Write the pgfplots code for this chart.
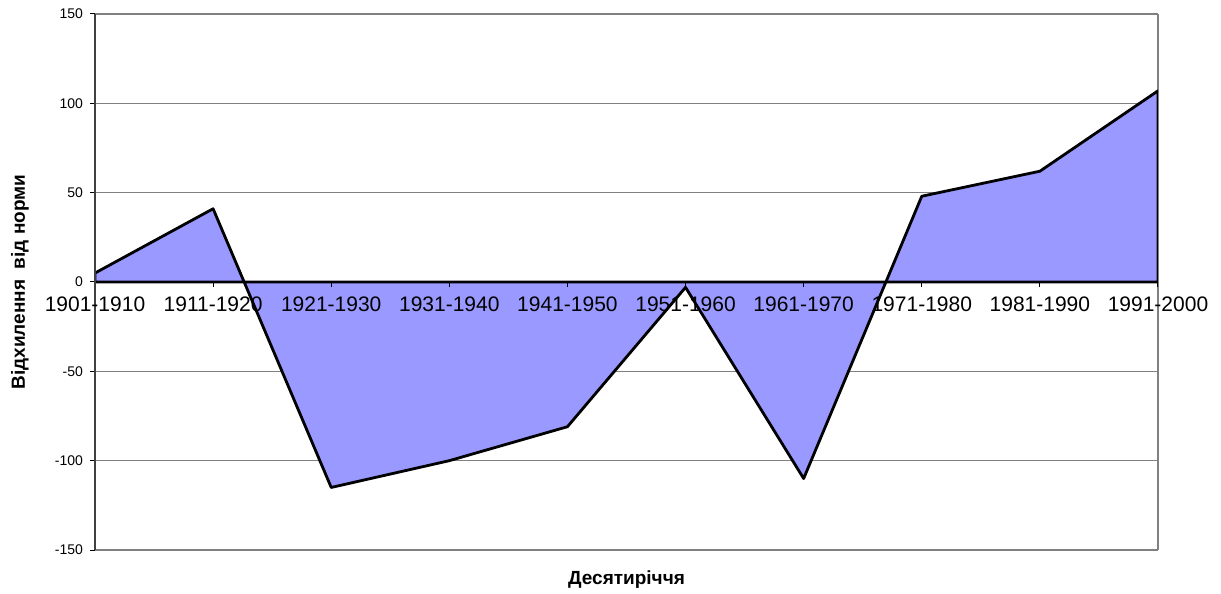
\documentclass[border=0pt]{standalone}
\usepackage{pgfplots}
\pgfplotsset{compat=1.18}
\usepackage{fontspec}
\setmainfont{Liberation Sans}
\definecolor{areafill}{HTML}{9999FF}
\pgfplotsset{
  common/.style={
    at={(0,0)}, anchor=south west,
    scale only axis, width=531.5pt, height=268pt,
    xmin=0, xmax=9, ymin=-150, ymax=150,
  },
}
\begin{document}
\begin{tikzpicture}
% background axis: grid, right border and the area
\begin{axis}[
  common,
  axis line style={draw=none},
  xtick=\empty,
  ytick={-150,-100,...,150}, yticklabels={},
  major tick length=0pt,
  ymajorgrids, major grid style={draw=gray, line width=0.7pt},
  extra x ticks={9}, extra x tick labels={},
  extra x tick style={xmajorgrids=true, major tick length=0pt},
]
\addplot[fill=areafill, draw=black, line width=1.4pt, line join=round] coordinates {
  (0,5) (1,41) (2,-115) (3,-100) (4,-81) (5,-3) (6,-110) (7,48) (8,62) (9,107)
} \closedcycle;
\end{axis}
% foreground axis: axis lines, ticks, labels
\begin{axis}[
  common,
  axis x line*=middle, axis y line*=left,
  hide obscured x ticks=false, hide obscured y ticks=false,
  xtick={0,...,9},
  xticklabels={1901-1910,1911-1920,1921-1930,1931-1940,1941-1950,1951-1960,1961-1970,1971-1980,1981-1990,1991-2000},
  ytick={-150,-100,...,150},
  tick align=outside, major tick length=2.5pt,
  x axis line style={black, line width=1.2pt},
  y axis line style={black!75, line width=0.9pt},
  tick style={black, line width=0.5pt},
  xticklabel style={font=\fontsize{10.5}{12}\selectfont, yshift=-1.5pt},
  yticklabel style={font=\fontsize{7}{8}\selectfont},
  /pgf/number format/assume math mode=true,
  ylabel={Відхилення\ \ від норми},
  xlabel={Десятиріччя},
  label style={font=\fontsize{9.5}{11}\selectfont\bfseries},
  ylabel style={at={(axis description cs:-0.0706,0.5)}, anchor=center},
  xlabel style={at={(axis description cs:0.5,-0.056)}, anchor=center},
]
\end{axis}
\pgfresetboundingbox
\path (-47.5pt,-22pt) rectangle (563pt,275pt);
\end{tikzpicture}
\end{document}
